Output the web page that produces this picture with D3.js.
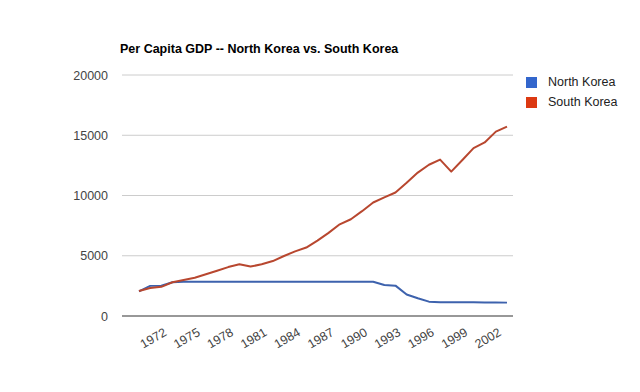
<!DOCTYPE html>
<html>
<head>
<meta charset="utf-8">
<script src="https://cdn.jsdelivr.net/npm/d3@7/dist/d3.min.js"></script>
<style>
  html, body { margin: 0; padding: 0; background: #fff; }
  svg { display: block; font-family: Arial, "Liberation Sans", sans-serif; }
</style>
</head>
<body>
<svg id="chart" width="640" height="392"></svg>
<script>
const years = d3.range(1970, 2004);
const northKorea = [2050, 2500, 2520, 2800, 2841, 2841, 2841, 2841, 2841, 2841,
  2841, 2841, 2841, 2841, 2841, 2841, 2841, 2841, 2841, 2841,
  2841, 2841, 2570, 2520, 1790, 1470, 1190, 1140, 1140, 1150,
  1150, 1130, 1120, 1110];
const southKorea = [2080, 2330, 2420, 2800, 2990, 3180, 3460, 3760, 4060, 4300,
  4100, 4290, 4560, 4980, 5360, 5680, 6260, 6900, 7610, 8030,
  8700, 9420, 9850, 10250, 11050, 11900, 12550, 12980, 11980, 12950,
  13930, 14400, 15300, 15720];
const seriesNames = ["North Korea", "South Korea"];
const seriesColors = ["#3366cc", "#dc3912"];
const lineColors = ["#3d62ad", "#b8472f"];
const yTicks = [0, 5000, 10000, 15000, 20000];
const xTickLabels = [1972, 1975, 1978, 1981, 1984, 1987, 1990, 1993, 1996, 1999, 2002];
const title = "Per Capita GDP -- North Korea vs. South Korea";

const svg = d3.select("#chart");
const plotLeft = 122, plotRight = 513, plotTop = 75, plotBottom = 316;

const x = d3.scalePoint().domain(years).range([139, 507]);
const y = d3.scaleLinear().domain([0, 20000]).range([plotBottom, plotTop]);

// title
svg.append("text")
  .attr("x", 120).attr("y", 53)
  .attr("font-size", 12.5).attr("font-weight", "bold").attr("fill", "#000")
  .text(title);

// gridlines
svg.append("g").selectAll("line").data(yTicks.filter(d => d !== 0)).join("line")
  .attr("x1", plotLeft).attr("x2", plotRight)
  .attr("y1", d => y(d)).attr("y2", d => y(d))
  .attr("stroke", "#cccccc").attr("stroke-width", 1);

// y axis labels
const yAxis = d3.axisLeft(y).tickValues(yTicks).tickSize(0).tickPadding(0).tickFormat(d3.format("d"));
const yg = svg.append("g").attr("transform", `translate(108,0)`).call(yAxis);
yg.select(".domain").remove();
yg.selectAll("text").attr("font-size", 12.5).attr("fill", "#444").attr("font-family", "Arial, 'Liberation Sans', sans-serif");

// baseline axis
svg.append("line")
  .attr("x1", plotLeft).attr("x2", plotRight)
  .attr("y1", y(0)).attr("y2", y(0))
  .attr("stroke", "#333").attr("stroke-width", 1.2);

// x axis labels
const xAxis = d3.axisBottom(x).tickValues(xTickLabels).tickSize(0).tickPadding(0);
const xg = svg.append("g").attr("transform", `translate(0,${plotBottom})`).call(xAxis);
xg.select(".domain").remove();
xg.selectAll("text")
  .attr("font-size", 12.5).attr("fill", "#444").attr("font-family", "Arial, 'Liberation Sans', sans-serif")
  .attr("text-anchor", "end").attr("dy", null).attr("y", 0)
  .attr("dominant-baseline", "middle")
  .attr("transform", "translate(4,16) rotate(-30)");

// lines
const data = [northKorea, southKorea];
const line = d3.line().x((d, i) => x(years[i])).y(d => y(d));
svg.append("g").selectAll("path").data(data).join("path")
  .attr("d", d => line(d))
  .attr("fill", "none")
  .attr("stroke", (d, i) => lineColors[i])
  .attr("stroke-width", 2)
  .attr("stroke-linejoin", "round");

// legend
const lg = svg.append("g").selectAll("g").data(seriesNames).join("g")
  .attr("transform", (d, i) => `translate(526,${77 + i * 20})`);
lg.append("rect").attr("width", 11).attr("height", 11).attr("fill", (d, i) => seriesColors[i]);
lg.append("text").attr("x", 22).attr("y", 5.5).attr("dominant-baseline", "middle")
  .attr("font-size", 12.5).attr("fill", "#222").text(d => d);
</script>
</body>
</html>
